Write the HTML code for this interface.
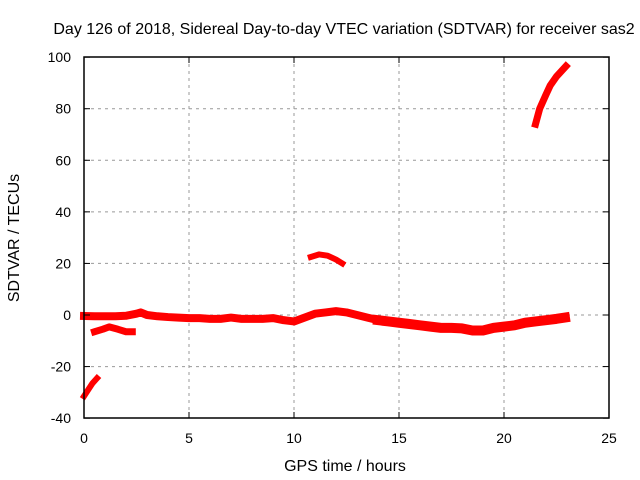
<!DOCTYPE html>
<html><head><meta charset="utf-8"><style>
body{margin:0;background:#fff}
svg{display:block}
text{font-family:"Liberation Sans",sans-serif;font-size:14px;fill:#000}
.big{font-size:16px}
</style></head><body>
<svg id="chart" width="640" height="480">
<g id="grid"></g>
<g id="series"></g>
<rect x="84" y="57" width="525" height="361" fill="none" stroke="#000" stroke-width="1.5"/>
<g id="ticks"></g>
<text class="big" x="344" y="34" text-anchor="middle">Day 126 of 2018, Sidereal Day-to-day VTEC variation (SDTVAR) for receiver sas2</text>
<text class="big" x="345" y="471" text-anchor="middle">GPS time / hours</text>
<text class="big" transform="translate(19,238) rotate(-90)" text-anchor="middle">SDTVAR / TECUs</text>
</svg>
<script>
const xTicks=[0,5,10,15,20,25];
const yTicks=[-40,-20,0,20,40,60,80,100];
const seg1T=[0,0.5,1,1.5,2,2.5,2.7,3,3.5,4,4.5,5,5.5,6,6.5,7,7.5,8,8.5,9,9.5,10,10.5,11,11.5,12,12.5,13,13.5,14];
const seg1V=[-0.4,-0.5,-0.5,-0.5,-0.3,0.5,1,0,-0.5,-0.8,-1,-1.2,-1.2,-1.5,-1.5,-1,-1.5,-1.5,-1.5,-1.2,-2,-2.5,-1,0.5,1,1.5,1,0,-1,-2];
const seg1bT=[14,14.5,15,15.5,16,16.5,17,17.5,18,18.5,19,19.5,20,20.5,21,21.5,22,22.5,22.9];
const seg1bV=[-2,-2.5,-3,-3.5,-4,-4.5,-5,-5,-5.2,-6,-6,-5,-4.5,-4,-3,-2.5,-2,-1.5,-1];
const seg2T=[0.5,0.9,1.2,1.6,2,2.3];
const seg2V=[-6.5,-5.5,-4.6,-5.5,-6.5,-6.5];
const seg3T=[0,0.2,0.4,0.62];
const seg3V=[-31.5,-29,-26.5,-24.5];
const seg4T=[10.8,11.2,11.6,12,12.3];
const seg4V=[22.5,23.5,23,21.5,20];
const seg5T=[21.5,21.7,22.0,22.2,22.5,22.95];
const seg5V=[74,80,85.5,89,92.5,96.5];
const X=t=>84+t*21;
const Y=v=>315-v*2.5786;
const NS='http://www.w3.org/2000/svg';
const grid=document.getElementById('grid'),ticks=document.getElementById('ticks'),series=document.getElementById('series');
function mk(tag,attrs,parent){const e=document.createElementNS(NS,tag);for(const k in attrs)e.setAttribute(k,attrs[k]);parent.appendChild(e);return e;}
xTicks.forEach(t=>{
 const x=X(t);
 if(t>0&&t<25){const g=mk('line',{x1:x,x2:x,y1:57,y2:418,stroke:'#999','stroke-dasharray':'3,4'},grid);
 
 }
 mk('line',{x1:x,x2:x,y1:418,y2:412,stroke:'#000'},ticks);
 mk('line',{x1:x,x2:x,y1:57,y2:63,stroke:'#000'},ticks);
 const l=mk('text',{x:x,y:443,'text-anchor':'middle'},ticks);l.textContent=t;
 
 
});
yTicks.forEach(v=>{
 const y=Y(v);
 if(v>-40&&v<100){const g=mk('line',{x1:84,x2:609,y1:y,y2:y,stroke:'#999','stroke-dasharray':'3,4'},grid);
 
 }
 mk('line',{x1:84,x2:90,y1:y,y2:y,stroke:'#000'},ticks);
 mk('line',{x1:603,x2:609,y1:y,y2:y,stroke:'#000'},ticks);
 const l=mk('text',{x:71,y:y+5,'text-anchor':'end'},ticks);l.textContent=v;
 
 
});
[[seg1T,seg1V,8],[seg1bT,seg1bV,10],[seg2T,seg2V,7],[seg3T,seg3V,6],[seg4T,seg4V,6],[seg5T,seg5V,7]].forEach(([T,V,w],i)=>{
 const pts=T.map((t,j)=>X(t)+','+Y(V[j])).join(' ');
 const p=mk('polyline',{points:pts,fill:'none',stroke:'#f00','stroke-width':w,'stroke-linejoin':'round','stroke-linecap':'square'},series);
 
 
});
</script>
</body></html>
